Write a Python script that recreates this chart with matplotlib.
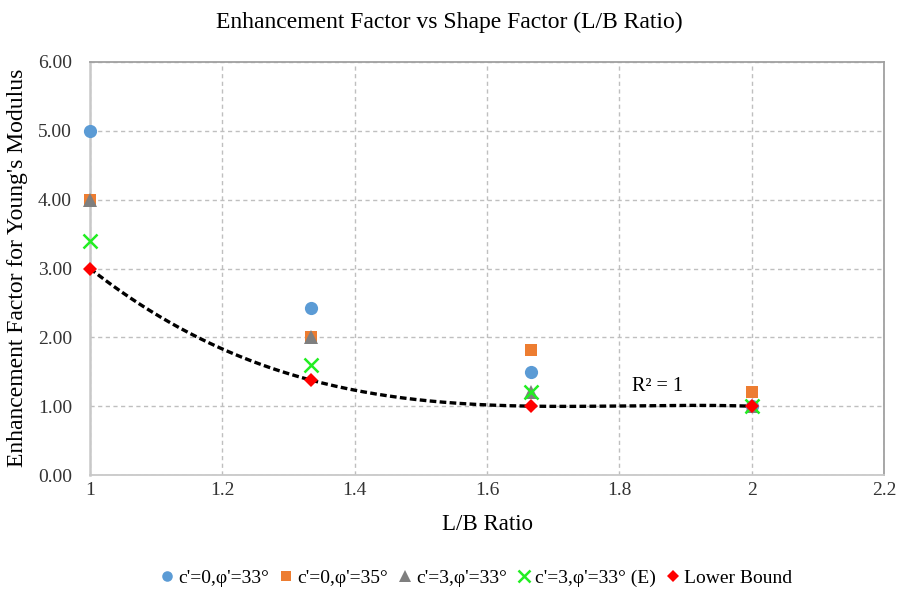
import numpy as np
import matplotlib.pyplot as plt

plt.rcParams["font.family"] = ["Liberation Serif", "DejaVu Serif"]

lb_ratio = [1.0, 4 / 3, 5 / 3, 2.0]
c0_phi33 = [5.0, 2.42, 1.5, 1.0]
c0_phi35 = [4.0, 2.0, 1.82, 1.2]
c3_phi33 = [4.0, 2.0, 1.2, 1.0]
c3_phi33_e = [3.4, 1.6, 1.2, 1.0]
lower_bound = [3.0, 1.38, 1.0, 1.0]

series = [
    ("c'=0,φ'=33°", c0_phi33, "o", "#5B9BD5", 9.5),
    ("c'=0,φ'=35°", c0_phi35, "s", "#ED7D31", 8.5),
    ("c'=3,φ'=33°", c3_phi33, "^", "#7F7F7F", 10),
    ("c'=3,φ'=33° (E)", c3_phi33_e, "x", "#22EE22", 10),
    ("Lower Bound", lower_bound, "D", "#FF0000", 7.5),
]

fig = plt.figure(figsize=(8.98, 5.89), dpi=100)
ax = fig.add_axes([90 / 898, 1 - 475 / 589, 794 / 898, 413 / 589])

for label, vals, mk, col, ms in series:
    kw = dict(markeredgewidth=1.8) if mk == "x" else dict(markeredgewidth=0)
    ax.plot(lb_ratio, vals, linestyle="none", marker=mk, color=col,
            markersize=ms, label=label, zorder=4, clip_on=False, **kw)

# polynomial trendline through lower bound (R^2 = 1)
coef = np.polyfit(lb_ratio, lower_bound, 3)
xs = np.linspace(1, 2, 200)
ax.plot(xs, np.polyval(coef, xs), color="black", linestyle=(0, (2, 1)),
        linewidth=2.4, zorder=3)
ax.text(1.858, 1.28, "R² = 1", fontsize=14.5, ha="center", va="center")

ax.set_xlim(1, 2.2)
ax.set_ylim(0, 6)
ax.set_xticks([1, 1.2, 1.4, 1.6, 1.8, 2, 2.2])
ax.set_xticklabels(["1", "1.2", "1.4", "1.6", "1.8", "2", "2.2"])
ax.set_yticks(np.arange(0, 7, 1))
ax.set_yticklabels([f"{v:.2f}" for v in range(7)])
ax.tick_params(axis="y", length=0, labelsize=14, pad=13, labelcolor="#333333")
ax.tick_params(axis="x", length=0, labelsize=14, pad=5, labelcolor="#333333")
ax.grid(True, color="#BFBFBF", linestyle=(0, (3, 2.5)), linewidth=1)
ax.set_axisbelow(True)
for side in ["top", "right"]:
    ax.spines[side].set_color("#A0A0A0")
    ax.spines[side].set_linewidth(1.3)
ax.spines["bottom"].set_color("#C8C8C8")
ax.spines["bottom"].set_linewidth(1.3)
ax.spines["left"].set_color("#C8C8C8")
ax.spines["left"].set_linewidth(1.8)

fig.text(0.5, 1 - 22 / 589, "Enhancement Factor vs Shape Factor (L/B Ratio)",
         fontsize=17, ha="center", va="center")
fig.text(487 / 898, 1 - 525 / 589, "L/B Ratio", fontsize=16.5, ha="center", va="center")
fig.text(18 / 898, 1 - 268 / 589, "Enhancement Factor for Young's Modulus",
         fontsize=17, ha="center", va="center", rotation=90)

fig.legend(loc="center", bbox_to_anchor=(0.53, 1 - 578 / 589), ncol=5, frameon=False,
           fontsize=14, handlelength=0.8, handletextpad=0.15, columnspacing=0.5,
           markerscale=0.8)

fig.savefig("out.png", dpi=100)
